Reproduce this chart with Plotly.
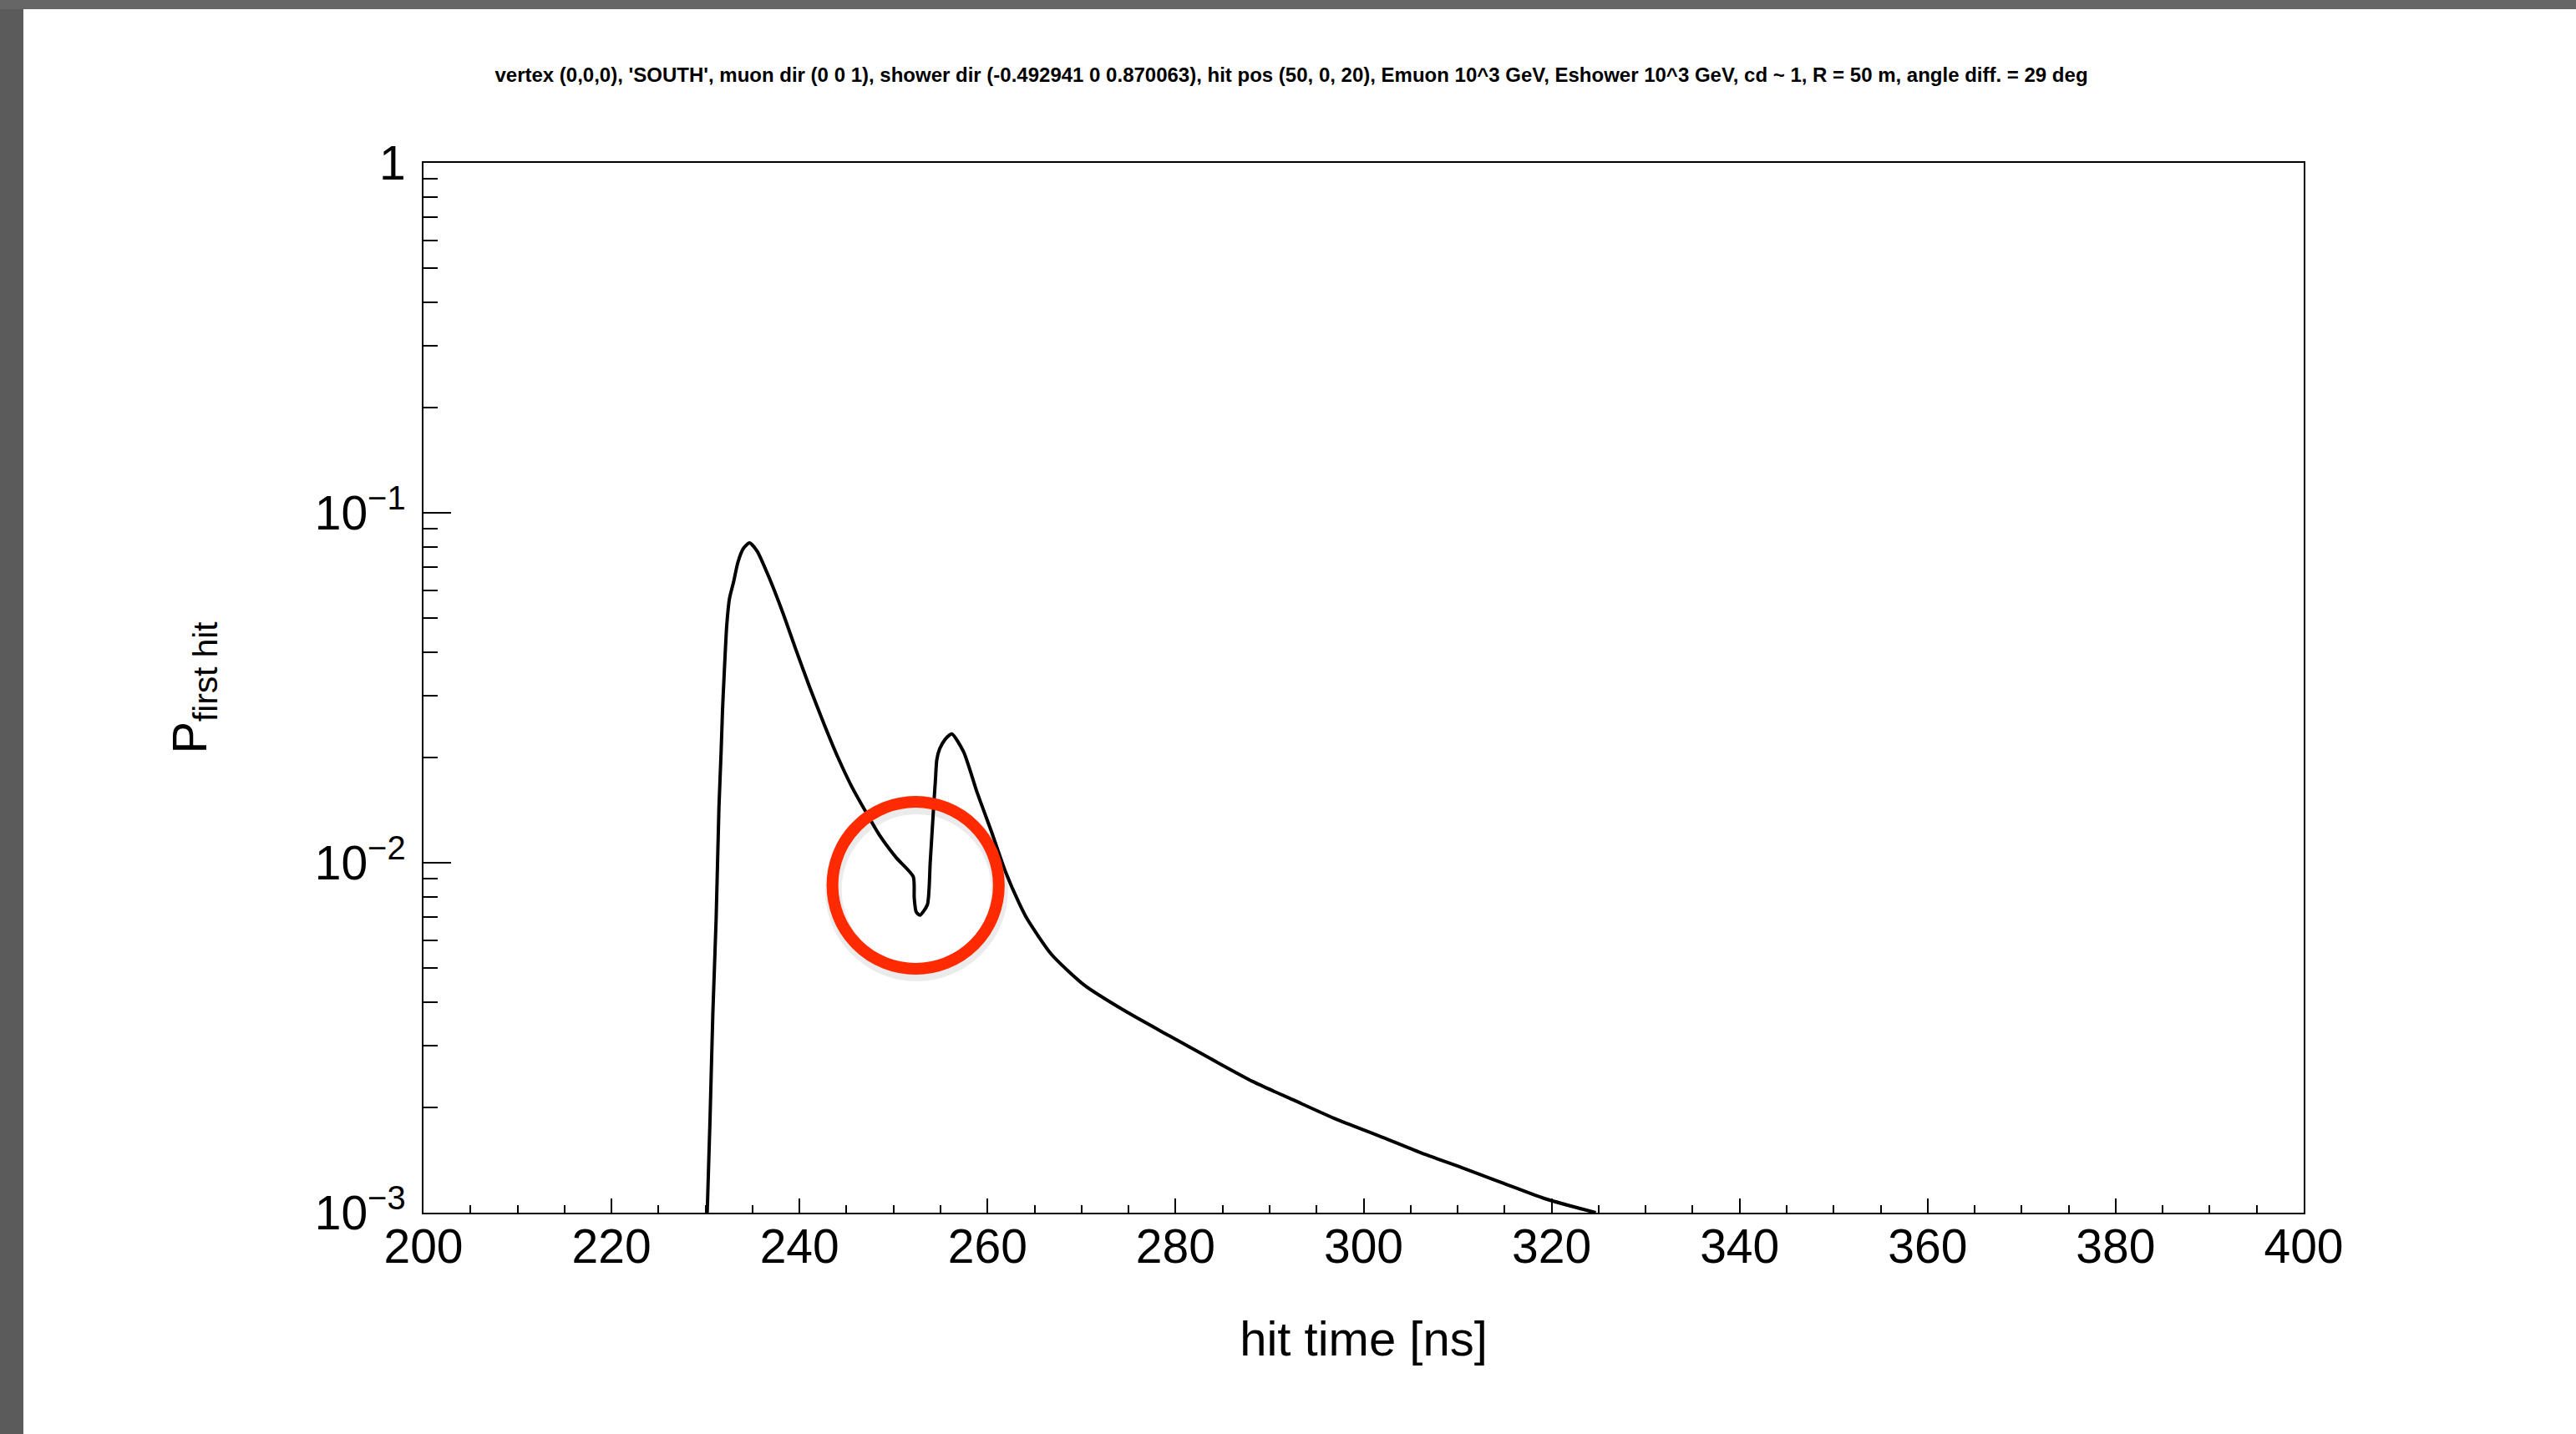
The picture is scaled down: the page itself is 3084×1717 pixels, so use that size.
import math
import plotly.graph_objects as go

# ---------------- data ----------------
hit_time_ns = [
    230.18, 230.48, 230.78, 231.13, 231.43, 231.66, 231.81, 231.96, 232.25, 232.55,
    232.99, 233.44, 234.03, 234.68, 235.5, 236.7, 238.2, 239.6, 241.1, 242.6,
    244.1, 245.6, 247.1, 248.5, 250.3, 252.1, 252.2, 252.4, 252.8, 253.6,
    253.9, 254.26, 254.46, 254.6, 254.9, 255.5, 256.2, 257.45, 258.9, 260.4,
    261.9, 263.35, 264.2, 266.8, 270.3, 274.9, 279.3, 283.8, 288.2,
    292.7, 297.1, 301.6, 306.0, 310.4, 314.9, 319.3, 324.7,
]
log10_p_first_hit = [
    -3.000, -2.733, -2.430, -2.160, -1.842, -1.683, -1.563, -1.476, -1.325, -1.245,
    -1.197, -1.142, -1.102, -1.086, -1.110, -1.181, -1.284, -1.390, -1.500, -1.603,
    -1.700, -1.785, -1.857, -1.921, -1.986, -2.040, -2.100, -2.140, -2.150, -2.120,
    -2.000, -1.842, -1.762, -1.706, -1.675, -1.647, -1.632, -1.683, -1.800, -1.910,
    -2.025, -2.115, -2.160, -2.262, -2.350, -2.428, -2.494, -2.561, -2.625,
    -2.680, -2.733, -2.780, -2.828, -2.871, -2.916, -2.960, -3.000,
]
p_first_hit = [10 ** v for v in log10_p_first_hit]

x_tick_values = [200, 220, 240, 260, 280, 300, 320, 340, 360, 380, 400]
y_tick_values = [0.001, 0.01, 0.1, 1]
y_tick_labels = ["10<sup>\u22123</sup>", "10<sup>\u22122</sup>", "10<sup>\u22121</sup>", "1"]
y_minor_values = [m * 10 ** e for e in (-3, -2, -1) for m in range(2, 10)]

title_text = ("vertex (0,0,0), 'SOUTH', muon dir (0 0 1), shower dir (-0.492941 0 0.870063), "
              "hit pos (50, 0, 20), Emuon 10^3 GeV, Eshower 10^3 GeV, cd ~ 1, R = 50 m, "
              "angle diff. = 29 deg")
x_title = "hit time [ns]"
y_title = "P<sub>first hit</sub>"

# highlighted region (hand-drawn red circle) in data units
circle_t = (243.5, 261.2)
circle_p = (10 ** -2.303, 10 ** -1.826)

# ---------------- figure ----------------
W, H = 3084, 1717
ML, MR, MT, MB = 507, 3084 - 2758, 195, 1717 - 1452
PW, PH = W - ML - MR, H - MT - MB
FONT = "Liberation Sans, Arial, Helvetica, sans-serif"
Y_LOG_RANGE = (-3, 0)


def px_x(x):
    return (x - ML) / PW


def px_y(y):
    return (H - MB - y) / PH


def p_to_paper(p):
    return (math.log10(p) - Y_LOG_RANGE[0]) / (Y_LOG_RANGE[1] - Y_LOG_RANGE[0])


fig = go.Figure()
fig.add_trace(go.Scatter(
    x=hit_time_ns, y=p_first_hit, mode="lines",
    line=dict(color="black", width=4, shape="spline", smoothing=0.6),
    hoverinfo="skip", showlegend=False,
))

cy0, cy1 = p_to_paper(circle_p[0]), p_to_paper(circle_p[1])
shapes = [
    # grey surround of the screenshot
    dict(type="rect", xref="paper", yref="paper", x0=px_x(0), x1=px_x(28),
         y0=px_y(H), y1=px_y(0), fillcolor="#5b5b5b", line=dict(width=0), layer="above"),
    dict(type="rect", xref="paper", yref="paper", x0=px_x(0), x1=px_x(W),
         y0=px_y(11), y1=px_y(0), fillcolor="#666666", line=dict(width=0), layer="above"),
    # soft shadow of the red circle
    dict(type="circle", xref="x", yref="paper",
         x0=circle_t[0] + 0.1, x1=circle_t[1] + 0.1,
         y0=cy0 - 0.004, y1=cy1 - 0.004,
         line=dict(color="rgba(0,0,0,0.08)", width=20), layer="above"),
    dict(type="circle", xref="x", yref="paper",
         x0=circle_t[0], x1=circle_t[1], y0=cy0, y1=cy1,
         line=dict(color="#ff2a00", width=14), layer="above"),
]

fig.update_layout(
    width=W, height=H,
    margin=dict(l=ML, r=MR, t=MT, b=MB, pad=0),
    paper_bgcolor="white", plot_bgcolor="white",
    font=dict(family=FONT, color="black"),
    showlegend=False,
    shapes=shapes,
    title=dict(text="<b>" + title_text + "</b>", xref="container", yref="container",
               x=1546 / W, y=1 - 90 / H, xanchor="center", yanchor="middle",
               font=dict(size=24, family=FONT, color="black")),
)

fig.update_xaxes(
    range=[200, 400], showgrid=False, zeroline=False,
    showline=True, mirror=True, linecolor="black", linewidth=2,
    ticks="inside", ticklen=17, tickwidth=2, tickcolor="black",
    tickmode="array", tickvals=x_tick_values,
    ticklabelstandoff=-10,
    tickfont=dict(size=57, family=FONT, color="black"),
    minor=dict(ticks="inside", ticklen=9, tickwidth=2, tickcolor="black", dtick=5, tick0=200),
    title=dict(text=x_title, font=dict(size=58, family=FONT, color="black"), standoff=59),
)
fig.update_yaxes(
    type="log", range=list(Y_LOG_RANGE), showgrid=False, zeroline=False,
    showline=True, mirror=True, linecolor="black", linewidth=2,
    ticks="inside", ticklen=33, tickwidth=2, tickcolor="black",
    tickmode="array", tickvals=y_tick_values, ticktext=y_tick_labels,
    ticklabelstandoff=8,
    tickfont=dict(size=57, family=FONT, color="black"),
    minor=dict(ticks="inside", ticklen=17, tickwidth=2, tickcolor="black",
               tickmode="array", tickvals=y_minor_values),
    title=dict(text=y_title, font=dict(size=58, family=FONT, color="black"), standoff=110),
)

fig.write_html("out.html")
